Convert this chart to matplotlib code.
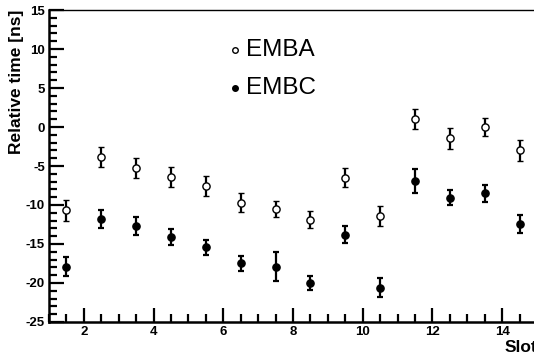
import numpy as np
import matplotlib
matplotlib.use("Agg")
import matplotlib.pyplot as plt
from matplotlib.ticker import MultipleLocator

slots = [1.5, 2.5, 3.5, 4.5, 5.5, 6.5, 7.5, 8.5, 9.5, 10.5, 11.5, 12.5, 13.5, 14.5]

emba     = [-10.7, -3.9, -5.2, -6.4, -7.6, -9.7, -10.5, -11.9, -6.5, -11.4, 1.0, -1.45, 0.0, -3.0]
emba_err = [1.3, 1.28, 1.28, 1.3, 1.3, 1.25, 1.06, 1.1, 1.2, 1.25, 1.26, 1.35, 1.15, 1.37]

embc     = [-17.9, -11.8, -12.7, -14.1, -15.4, -17.5, -17.9, -20.0, -13.8, -20.6, -6.9, -9.1, -8.5, -12.4]
embc_err = [1.24, 1.2, 1.1, 1.0, 0.96, 0.94, 1.9, 0.85, 1.07, 1.26, 1.5, 0.96, 1.1, 1.17]

plt.rcParams["font.family"] = ["Liberation Sans", "DejaVu Sans"]
plt.rcParams["axes.unicode_minus"] = False

fig = plt.figure(figsize=(5.34, 3.58), dpi=100)
ax = fig.add_axes([0.0918, 0.1006, 0.9138, 0.8714])

eb = dict(fmt="o", color="black", ecolor="black", elinewidth=1.6,
          capsize=2, capthick=1.6, markersize=5.2, clip_on=False)
ax.errorbar(slots, emba, yerr=emba_err, mfc="white", mec="black", mew=1.0, **eb)
ax.errorbar(slots, embc, yerr=embc_err, mfc="black", mec="black", **eb)

ax.set_xlim(1, 15)
ax.set_ylim(-25, 15)

ax.xaxis.set_major_locator(MultipleLocator(2))
ax.xaxis.set_minor_locator(MultipleLocator(0.5))
ax.yaxis.set_major_locator(MultipleLocator(5))
ax.yaxis.set_minor_locator(MultipleLocator(1))
ax.tick_params(which="both", direction="in", top=False, right=False,
               width=1.6, labelsize=9.5)
ax.tick_params(which="major", length=11, pad=3)
ax.tick_params(which="minor", length=6)
ax.tick_params(axis="x", which="major", length=10)
for lab in ax.get_xticklabels() + ax.get_yticklabels():
    lab.set_fontweight("bold")

ax.spines["left"].set_linewidth(1.8)
ax.spines["bottom"].set_linewidth(1.8)
ax.spines["top"].set_linewidth(1.0)
ax.spines["right"].set_linewidth(1.0)

ax.set_ylabel("Relative time [ns]", fontsize=12.5, fontweight="bold",
              loc="top", labelpad=1)
ax.set_xlabel("Slot", fontsize=12.5, fontweight="bold", loc="right", labelpad=1)

# legend drawn like ROOT's TLegend (no frame)
ax.plot([6.34], [9.9], "o", mfc="white", mec="black", ms=4)
ax.plot([6.34], [5.0], "o", mfc="black", mec="black", ms=4)
ax.text(6.66, 9.9, "EMBA", fontsize=17.5, va="center")
ax.text(6.66, 5.0, "EMBC", fontsize=17.5, va="center")

fig.savefig("out.png", dpi=100)
